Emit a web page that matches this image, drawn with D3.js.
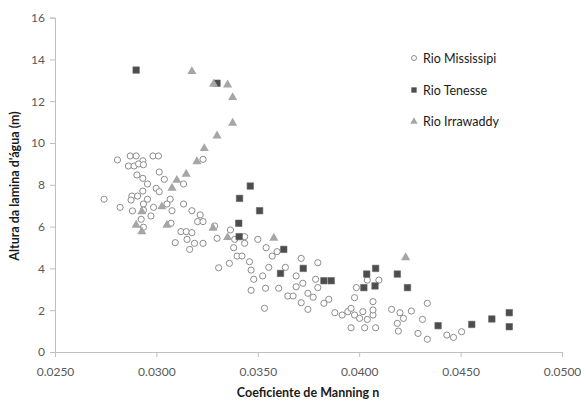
<!DOCTYPE html>
<html><head><meta charset="utf-8">
<script src="https://cdn.jsdelivr.net/npm/d3@7"></script>
<style>body{margin:0;background:#fff}svg{display:block}</style>
</head><body><svg id="c" width="581" height="405"></svg>
<script>
const seriesNames = ["Rio Mississipi", "Rio Tenesse", "Rio Irrawaddy"];
const xTicks = [0.025, 0.030, 0.035, 0.040, 0.045, 0.050];
const yTicks = [0, 2, 4, 6, 8, 10, 12, 14, 16];
const xTitle = "Coeficiente de Manning n";
const yTitle = "Altura da lamina d'água (m)";

const mississipiN = [0.02808,0.02871,0.02900,0.02983,0.03010,0.02933,0.02862,0.02890,0.02912,0.02936,0.03014,0.02904,0.02933,0.03230,0.02956,0.03039,0.03134,0.02933,0.02999,0.03014,0.02742,0.02879,0.02907,0.02875,0.02956,0.03068,0.03052,0.02936,0.02986,0.02821,0.03134,0.02882,0.02936,0.02973,0.03077,0.03175,0.03216,0.02925,0.03203,0.03230,0.02936,0.03072,0.03287,0.03121,0.03147,0.03175,0.03093,0.03151,0.03188,0.03230,0.03164,0.03299,0.03365,0.03381,0.03398,0.03386,0.03435,0.03435,0.03500,0.03541,0.03422,0.03571,0.03595,0.03714,0.03360,0.03307,0.03459,0.03467,0.03480,0.03467,0.03524,0.03554,0.03636,0.03538,0.03603,0.03533,0.03689,0.03722,0.03689,0.03796,0.03785,0.03796,0.03648,0.03674,0.03747,0.03773,0.03714,0.03850,0.03826,0.03747,0.03880,0.04040,0.04097,0.03986,0.03977,0.04068,0.03916,0.03944,0.03960,0.03977,0.04002,0.04018,0.04040,0.04068,0.04068,0.03960,0.04027,0.04081,0.04160,0.04201,0.04218,0.04188,0.04193,0.04257,0.04312,0.04336,0.04290,0.04336,0.04432,0.04465,0.04505];
const mississipiH = [9.19,9.38,9.38,9.38,9.38,9.15,8.90,8.90,9.00,8.96,8.61,8.47,8.31,9.22,8.04,8.26,8.04,7.70,7.83,7.67,7.31,7.46,7.46,7.27,7.31,7.31,7.08,7.08,6.92,6.92,7.08,6.75,6.79,6.51,6.76,6.76,6.56,6.35,6.24,6.24,5.97,6.16,6.03,5.76,5.76,5.71,5.23,5.39,5.20,5.20,4.91,5.44,5.84,4.99,4.59,5.39,5.52,5.20,5.39,4.99,4.59,4.59,4.80,4.48,4.24,4.03,4.32,3.92,3.48,2.95,3.64,4.05,4.05,3.05,3.05,2.09,3.64,3.29,3.12,4.27,3.48,3.08,2.68,2.68,2.81,2.62,2.36,2.52,2.33,2.04,1.88,3.44,3.44,3.08,2.60,2.41,1.77,1.93,2.09,1.77,1.61,1.93,1.56,1.77,2.01,1.16,1.16,1.16,2.04,1.88,1.61,1.37,1.00,1.96,1.56,2.33,0.89,0.61,0.81,0.70,0.97];

const tenesseN = [0.02900,0.03299,0.03463,0.03410,0.03509,0.03406,0.03408,0.03628,0.03612,0.03724,0.03826,0.03862,0.04037,0.04081,0.04023,0.04078,0.04188,0.04238,0.04389,0.04555,0.04654,0.04740,0.04740];
const tenesseH = [13.49,12.86,7.94,7.35,6.76,6.16,5.52,4.91,3.76,4.00,3.41,3.41,3.73,4.00,3.08,3.16,3.73,3.08,1.26,1.32,1.58,1.88,1.21];

const irrawaddyN = [0.03175,0.03282,0.03351,0.03376,0.03376,0.03299,0.03236,0.03200,0.03147,0.03101,0.03077,0.03027,0.02928,0.02900,0.03052,0.02928,0.03279,0.03351,0.03579,0.04229];
const irrawaddyH = [13.46,12.86,12.82,12.22,10.99,10.38,9.78,9.15,8.55,8.26,7.88,6.99,6.75,6.11,6.11,5.80,5.97,5.52,5.49,4.56];

const svg = d3.select("#c");
const font = "Lato, 'Open Sans', sans-serif";
const x = d3.scaleLinear().domain([0.025, 0.050]).range([55, 562]);
const y = d3.scaleLinear().domain([0, 16]).range([352, 17.6]);

const axisColor = "#bfbfbf";
const xAxis = svg.append("g").attr("transform", `translate(0,${y(0)})`)
  .call(d3.axisBottom(x).tickValues(xTicks).tickFormat(d3.format(".4f")).tickSizeOuter(0).tickSize(5).tickPadding(10));
const yAxis = svg.append("g").attr("transform", `translate(${x(0.025)},0)`)
  .call(d3.axisLeft(y).tickValues(yTicks).tickFormat(d3.format("d")).tickSizeOuter(0).tickSize(5).tickPadding(5));
[xAxis, yAxis].forEach(g => {
  g.selectAll("path,line").attr("stroke", axisColor);
  g.selectAll("text").attr("fill", "#595959").style("font-family", font).style("font-size", "12px");
});

svg.append("text").attr("x", 308).attr("y", 397).attr("text-anchor", "middle")
  .style("font-family", font).style("font-weight", "bold").style("font-size", "12.5px").attr("fill", "#1a1a1a").text(xTitle);
svg.append("text").attr("transform", "translate(19,186) rotate(-90)").attr("text-anchor", "middle")
  .style("font-family", font).style("font-weight", "bold").style("font-size", "12.5px").attr("fill", "#1a1a1a").text(yTitle);

const mis = d3.zip(mississipiN, mississipiH);
const ten = d3.zip(tenesseN, tenesseH);
const irr = d3.zip(irrawaddyN, irrawaddyH);

const tri = d3.symbol().type(d3.symbolTriangle).size(36);
const sq = d3.symbol().type(d3.symbolSquare).size(42);

svg.append("g").selectAll("circle").data(mis).join("circle")
  .attr("cx", d => x(d[0])).attr("cy", d => y(d[1])).attr("r", 3.1)
  .attr("fill", "#fff").attr("stroke", "#8c8c8c").attr("stroke-width", 1);
svg.append("g").selectAll("path").data(ten).join("path")
  .attr("transform", d => `translate(${x(d[0])},${y(d[1])})`).attr("d", sq)
  .attr("fill", "#4d4d4d").attr("stroke", "#666").attr("stroke-width", 0.6);
svg.append("g").selectAll("path").data(irr).join("path")
  .attr("transform", d => `translate(${x(d[0])},${y(d[1])+0.8})`).attr("d", tri)
  .attr("fill", "#a6a6a6");

// legend
const lg = svg.append("g");
const ly = [58, 90, 121];
lg.append("circle").attr("cx", 414).attr("cy", ly[0]).attr("r", 2.5).attr("fill", "#fff").attr("stroke", "#8c8c8c");
lg.append("path").attr("transform", `translate(414,${ly[1]})`).attr("d", d3.symbol().type(d3.symbolSquare).size(28)).attr("fill", "#4d4d4d");
lg.append("path").attr("transform", `translate(414,${ly[2]+0.5})`).attr("d", d3.symbol().type(d3.symbolTriangle).size(24)).attr("fill", "#a6a6a6");
seriesNames.forEach((s, i) => {
  lg.append("text").attr("x", 423).attr("y", ly[i] + 4.5).text(s)
    .style("font-family", font).style("font-size", "12.5px").attr("fill", "#1a1a1a");
});
</script></body></html>
